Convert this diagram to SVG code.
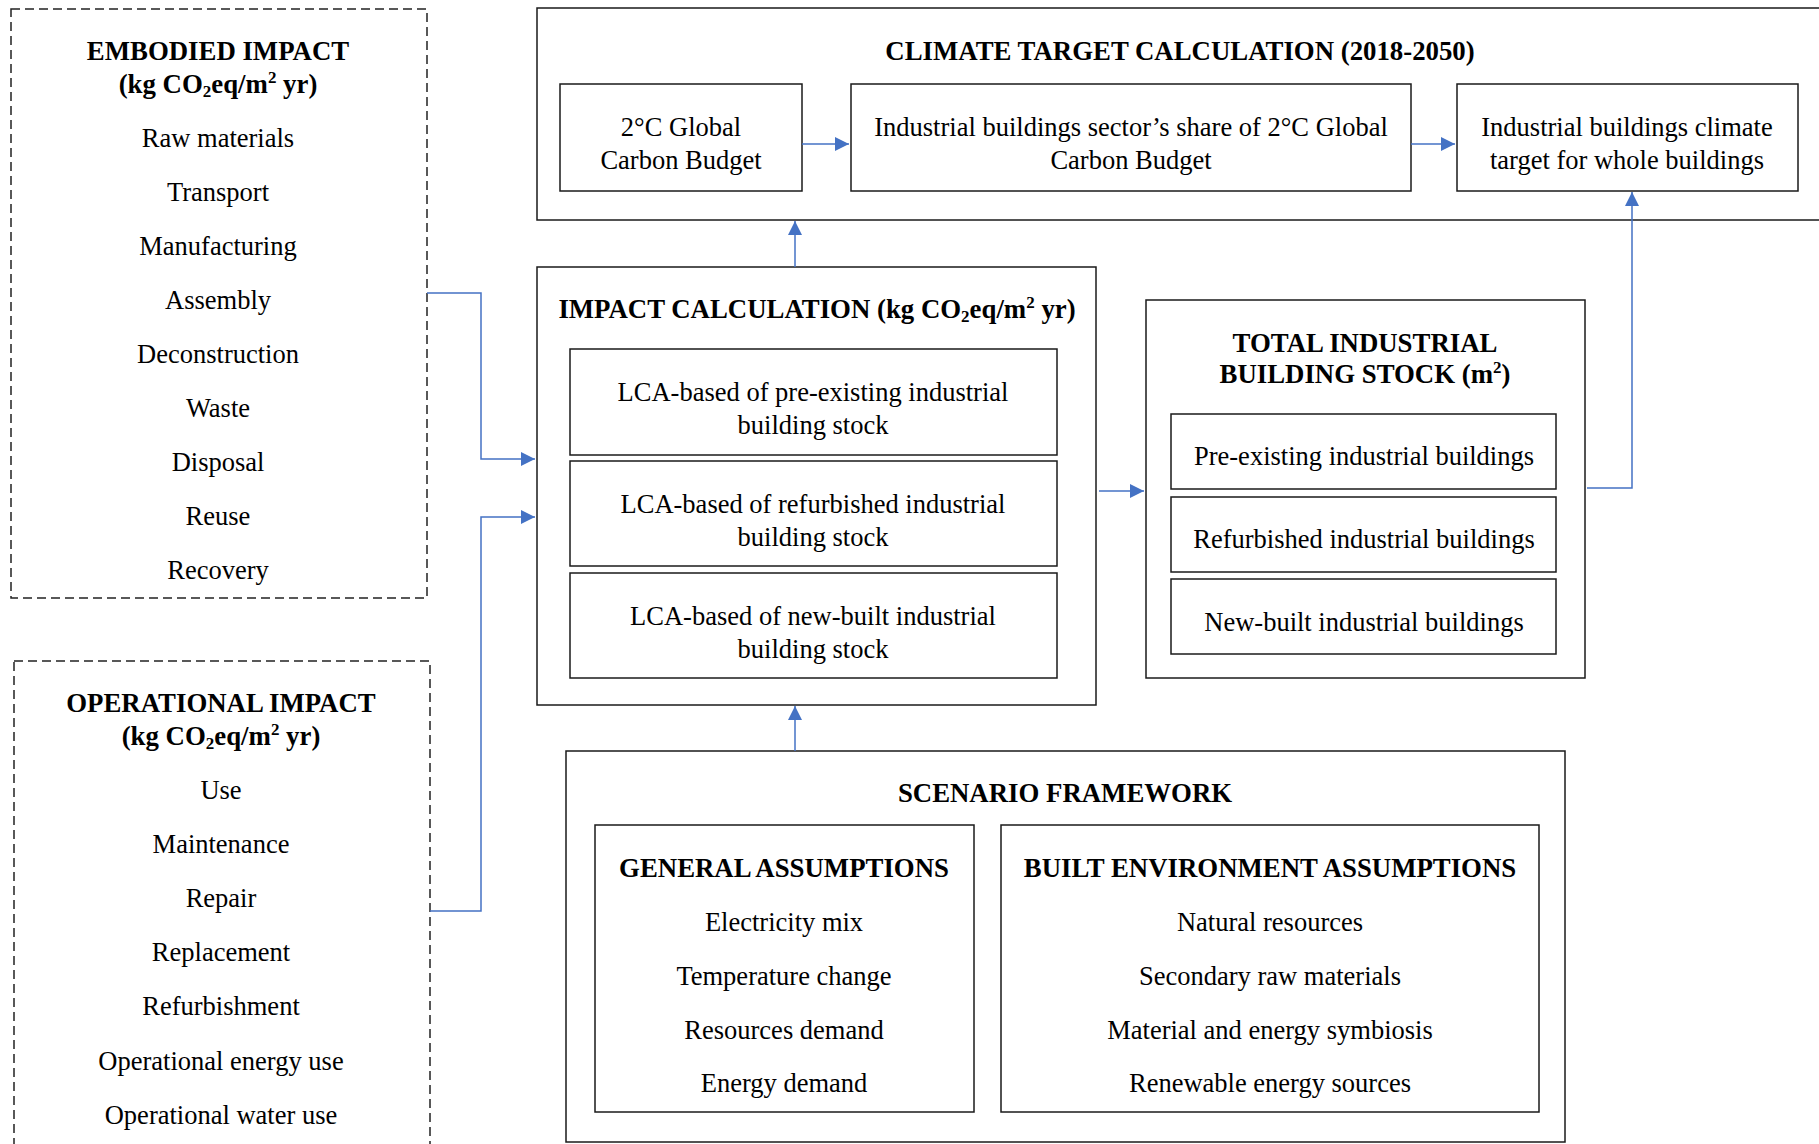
<svg xmlns="http://www.w3.org/2000/svg" width="1819" height="1144" viewBox="0 0 1819 1144">
  <style>
    text { font-family: "Liberation Serif", "Times New Roman", serif; font-size: 26.5px; fill: #000; text-anchor: middle; }
    .b { font-weight: bold; font-size: 26.8px; }
    .sm { font-size: 17px; }
    .box { fill: #fff; stroke: #1a1a1a; stroke-width: 1.5; }
    .dash { fill: none; stroke: #222; stroke-width: 1.5; stroke-dasharray: 9 5; }
    .conn { fill: none; stroke: #4472C4; stroke-width: 1.5; marker-end: url(#arrow); }
  </style>
  <defs>
    <marker id="arrow" markerUnits="userSpaceOnUse" markerWidth="14" markerHeight="14" refX="14" refY="7" orient="auto">
      <path d="M0,0 L14,7 L0,14 z" fill="#4472C4"/>
    </marker>
  </defs>
  <rect width="1819" height="1144" fill="#fff"/>

  <!-- Embodied impact (dashed) -->
  <g id="embodied">
    <rect class="dash" x="11" y="9" width="416" height="589"/>
    <text class="b" x="218" y="60">EMBODIED IMPACT</text>
    <text class="b" x="218" y="93">(kg CO<tspan class="sm" dy="4">2</tspan><tspan dy="-4">eq/m</tspan><tspan class="sm" dy="-10">2</tspan><tspan dy="10"> yr)</tspan></text>
    <text x="218" y="147">Raw materials</text>
    <text x="218" y="201">Transport</text>
    <text x="218" y="255">Manufacturing</text>
    <text x="218" y="309">Assembly</text>
    <text x="218" y="363">Deconstruction</text>
    <text x="218" y="417">Waste</text>
    <text x="218" y="471">Disposal</text>
    <text x="218" y="525">Reuse</text>
    <text x="218" y="579">Recovery</text>
  </g>

  <!-- Operational impact (dashed, runs past the lower edge) -->
  <g id="operational">
    <rect class="dash" x="14" y="661" width="416" height="520"/>
    <text class="b" x="221" y="712">OPERATIONAL IMPACT</text>
    <text class="b" x="221" y="745">(kg CO<tspan class="sm" dy="4">2</tspan><tspan dy="-4">eq/m</tspan><tspan class="sm" dy="-10">2</tspan><tspan dy="10"> yr)</tspan></text>
    <text x="221" y="799">Use</text>
    <text x="221" y="853">Maintenance</text>
    <text x="221" y="907">Repair</text>
    <text x="221" y="961">Replacement</text>
    <text x="221" y="1015">Refurbishment</text>
    <text x="221" y="1070">Operational energy use</text>
    <text x="221" y="1124">Operational water use</text>
  </g>

  <!-- Climate target calculation (runs past the right edge) -->
  <g id="climate-target">
    <rect class="box" x="537" y="8" width="1320" height="212"/>
    <text class="b" x="1180" y="60">CLIMATE TARGET CALCULATION (2018-2050)</text>
  </g>
  <g id="global-budget">
    <rect class="box" x="560" y="84" width="242" height="107"/>
    <text x="681" y="136">2°C Global</text>
    <text x="681" y="169">Carbon Budget</text>
  </g>
  <g id="sector-share">
    <rect class="box" x="851" y="84" width="560" height="107"/>
    <text x="1131" y="136">Industrial buildings sector’s share of 2°C Global</text>
    <text x="1131" y="169">Carbon Budget</text>
  </g>
  <g id="whole-building-target">
    <rect class="box" x="1457" y="84" width="341" height="107"/>
    <text x="1627" y="136">Industrial buildings climate</text>
    <text x="1627" y="169">target for whole buildings</text>
  </g>

  <!-- Impact calculation -->
  <g id="impact-calculation">
    <rect class="box" x="537" y="267" width="559" height="438"/>
    <text class="b" x="817" y="318">IMPACT CALCULATION (kg CO<tspan class="sm" dy="4">2</tspan><tspan dy="-4">eq/m</tspan><tspan class="sm" dy="-10">2</tspan><tspan dy="10"> yr)</tspan></text>
  </g>
  <g id="lca-pre-existing">
    <rect class="box" x="570" y="349" width="487" height="106"/>
    <text x="813" y="401">LCA-based of pre-existing industrial</text>
    <text x="813" y="434">building stock</text>
  </g>
  <g id="lca-refurbished">
    <rect class="box" x="570" y="461" width="487" height="105"/>
    <text x="813" y="513">LCA-based of refurbished industrial</text>
    <text x="813" y="546">building stock</text>
  </g>
  <g id="lca-new-built">
    <rect class="box" x="570" y="573" width="487" height="105"/>
    <text x="813" y="625">LCA-based of new-built industrial</text>
    <text x="813" y="658">building stock</text>
  </g>

  <!-- Total industrial building stock -->
  <g id="building-stock">
    <rect class="box" x="1146" y="300" width="439" height="378"/>
    <text class="b" x="1365" y="352">TOTAL INDUSTRIAL</text>
    <text class="b" x="1365" y="383">BUILDING STOCK (m<tspan class="sm" dy="-10">2</tspan><tspan dy="10">)</tspan></text>
  </g>
  <g id="stock-pre-existing">
    <rect class="box" x="1171" y="414" width="385" height="75"/>
    <text x="1364" y="465">Pre-existing industrial buildings</text>
  </g>
  <g id="stock-refurbished">
    <rect class="box" x="1171" y="497" width="385" height="75"/>
    <text x="1364" y="548">Refurbished industrial buildings</text>
  </g>
  <g id="stock-new-built">
    <rect class="box" x="1171" y="579" width="385" height="75"/>
    <text x="1364" y="631">New-built industrial buildings</text>
  </g>

  <!-- Scenario framework -->
  <g id="scenario-framework">
    <rect class="box" x="566" y="751" width="999" height="391"/>
    <text class="b" x="1065" y="802">SCENARIO FRAMEWORK</text>
  </g>
  <g id="general-assumptions">
    <rect class="box" x="595" y="825" width="379" height="287"/>
    <text class="b" x="784" y="877">GENERAL ASSUMPTIONS</text>
    <text x="784" y="931">Electricity mix</text>
    <text x="784" y="985">Temperature change</text>
    <text x="784" y="1039">Resources demand</text>
    <text x="784" y="1092">Energy demand</text>
  </g>
  <g id="built-environment-assumptions">
    <rect class="box" x="1001" y="825" width="538" height="287"/>
    <text class="b" x="1270" y="877">BUILT ENVIRONMENT ASSUMPTIONS</text>
    <text x="1270" y="931">Natural resources</text>
    <text x="1270" y="985">Secondary raw materials</text>
    <text x="1270" y="1039">Material and energy symbiosis</text>
    <text x="1270" y="1092">Renewable energy sources</text>
  </g>

  <!-- Connectors -->
  <g id="connectors">
    <path class="conn" d="M427,293 H481 V459 H535"/>
    <path class="conn" d="M430,911 H481 V517 H535"/>
    <path class="conn" d="M795,267 V221"/>
    <path class="conn" d="M795,751 V706"/>
    <path class="conn" d="M1099,491 H1144"/>
    <path class="conn" d="M1587,488 H1632 V192"/>
    <path class="conn" d="M802,144 H849"/>
    <path class="conn" d="M1411,144 H1455"/>
  </g>
</svg>
